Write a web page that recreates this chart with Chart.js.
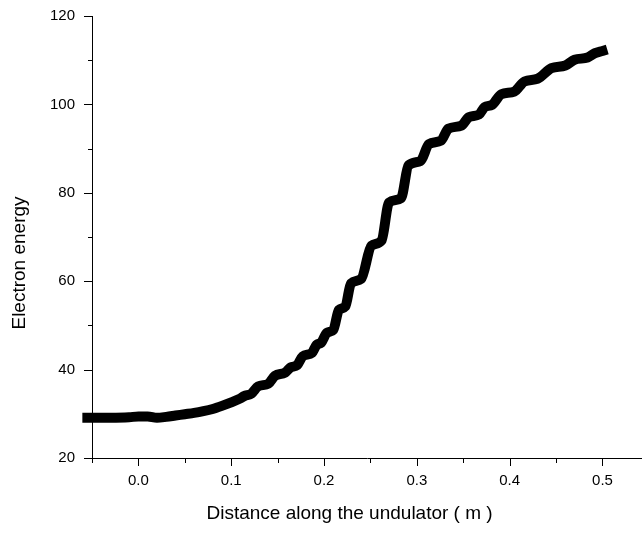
<!DOCTYPE html>
<html>
<head>
<meta charset="utf-8">
<script src="https://cdn.jsdelivr.net/npm/chart.js@4"></script>
<style>
  html, body { margin: 0; padding: 0; background: #fff; }
  #wrap { width: 642px; height: 533px; }
</style>
</head>
<body>
<div id="wrap"><canvas id="energyChart" width="642" height="533"></canvas></div>
<script>
// distance along the undulator (m) and electron energy
const distance = [
  -0.055, -0.03, -0.01, 0.0, 0.01, 0.02, 0.03, 0.04, 0.05, 0.06, 0.07, 0.08, 0.09, 0.1, 0.11,
  0.114, 0.122, 0.129, 0.14, 0.147, 0.158, 0.164, 0.171, 0.177, 0.187, 0.192, 0.197,
  0.203, 0.21, 0.216, 0.223, 0.229, 0.24, 0.251, 0.262, 0.27, 0.283, 0.291, 0.304,
  0.313, 0.326, 0.334, 0.348, 0.356, 0.367, 0.373, 0.381, 0.391, 0.405, 0.416, 0.43,
  0.445, 0.46, 0.47, 0.484, 0.492, 0.5
];
const energy = [
  29.1, 29.1, 29.2, 29.4, 29.4, 29.1, 29.3, 29.6, 29.9, 30.2, 30.6, 31.1, 31.8, 32.6, 33.5,
  34.0, 34.6, 36.2, 36.8, 38.6, 39.3, 40.5, 41.0, 43.0, 43.8, 45.6, 46.1,
  48.3, 49.0, 53.5, 54.3, 59.5, 60.5, 68.0, 69.2, 77.8, 78.8, 86.2, 87.2,
  91.0, 91.8, 94.5, 95.2, 97.1, 97.7, 99.4, 99.9, 102.3, 102.9, 105.2, 105.8,
  108.2, 108.8, 110.1, 110.6, 111.6, 112.1
];
const xMajorTicks = [0.0, 0.1, 0.2, 0.3, 0.4, 0.5];
const yMajorTicks = [20, 40, 60, 80, 100, 120];
const xTitle = 'Distance along the undulator ( m )';
const yTitle = 'Electron energy';

const points = distance.map((d, i) => ({ x: d, y: energy[i] }));
const labelFont = 'Liberation Sans, Arial, sans-serif';

// outward major/minor ticks and the two axis titles
const axisDecor = {
  id: 'axisDecor',
  afterDraw(chart) {
    const c = chart.ctx;
    const xs = chart.scales.x, ys = chart.scales.y;
    c.save();
    c.strokeStyle = '#000';
    c.lineWidth = 1;
    c.beginPath();
    xs.ticks.forEach(t => {
      const px = Math.round(xs.getPixelForValue(t.value)) + 0.5;
      const major = xMajorTicks.some(v => Math.abs(v - t.value) < 1e-6);
      c.moveTo(px, xs.top);
      c.lineTo(px, xs.top + (major ? 8 : 5));
    });
    ys.ticks.forEach(t => {
      const py = Math.round(ys.getPixelForValue(t.value)) + 0.5;
      const major = yMajorTicks.includes(t.value);
      c.moveTo(ys.right, py);
      c.lineTo(ys.right - (major ? 8 : 4), py);
    });
    c.stroke();

    // titles placed as in the original figure
    c.fillStyle = '#000';
    c.font = '19px ' + labelFont;
    c.textAlign = 'center';
    c.textBaseline = 'middle';
    c.fillText(xTitle, (ys.right + xs.getPixelForValue(0.505)) / 2, 514);
    c.translate(20, 263);
    c.rotate(-Math.PI / 2);
    c.fillText(yTitle, 0, 0);
    c.restore();
  }
};

new Chart(document.getElementById('energyChart'), {
  type: 'line',
  data: {
    datasets: [{
      data: points,
      borderColor: '#000',
      borderWidth: 10,
      borderCapStyle: 'square',
      borderJoinStyle: 'round',
      cubicInterpolationMode: 'monotone',
      pointRadius: 0,
      fill: false,
      clip: false
    }]
  },
  options: {
    responsive: false,
    animation: false,
    layout: { padding: { top: 16, right: 0, left: 0, bottom: 0 } },
    plugins: { legend: { display: false }, tooltip: { enabled: false } },
    scales: {
      x: {
        type: 'linear',
        min: -0.05,
        max: 0.5426,
        afterBuildTicks(scale) {
          const t = [];
          for (let i = -1; i <= 10; i++) t.push({ value: +(i * 0.05).toFixed(2) });
          scale.ticks = t;
        },
        afterFit(scale) {
          scale.height = 75;
          scale.paddingLeft = 0;
          scale.paddingRight = 0;
        },
        grid: { drawOnChartArea: false, drawTicks: false },
        border: { display: true, color: '#000', width: 1 },
        ticks: {
          padding: 14,
          color: '#000',
          font: { family: labelFont, size: 15 },
          maxRotation: 0,
          autoSkip: false,
          callback: v => xMajorTicks.some(m => Math.abs(m - v) < 1e-6) ? v.toFixed(1) : ''
        }
      },
      y: {
        type: 'linear',
        min: 20,
        max: 120,
        afterBuildTicks(scale) {
          const t = [];
          for (let v = 20; v <= 120; v += 10) t.push({ value: v });
          scale.ticks = t;
        },
        afterFit(scale) {
          scale.width = 92;
          scale.paddingTop = 0;
          scale.paddingBottom = 0;
        },
        grid: { drawOnChartArea: false, drawTicks: false },
        border: { display: true, color: '#000', width: 1 },
        ticks: {
          padding: 17,
          color: '#000',
          font: { family: labelFont, size: 15 },
          autoSkip: false,
          callback: v => yMajorTicks.includes(v) ? String(v) : ''
        }
      }
    }
  },
  plugins: [axisDecor]
});
</script>
</body>
</html>
